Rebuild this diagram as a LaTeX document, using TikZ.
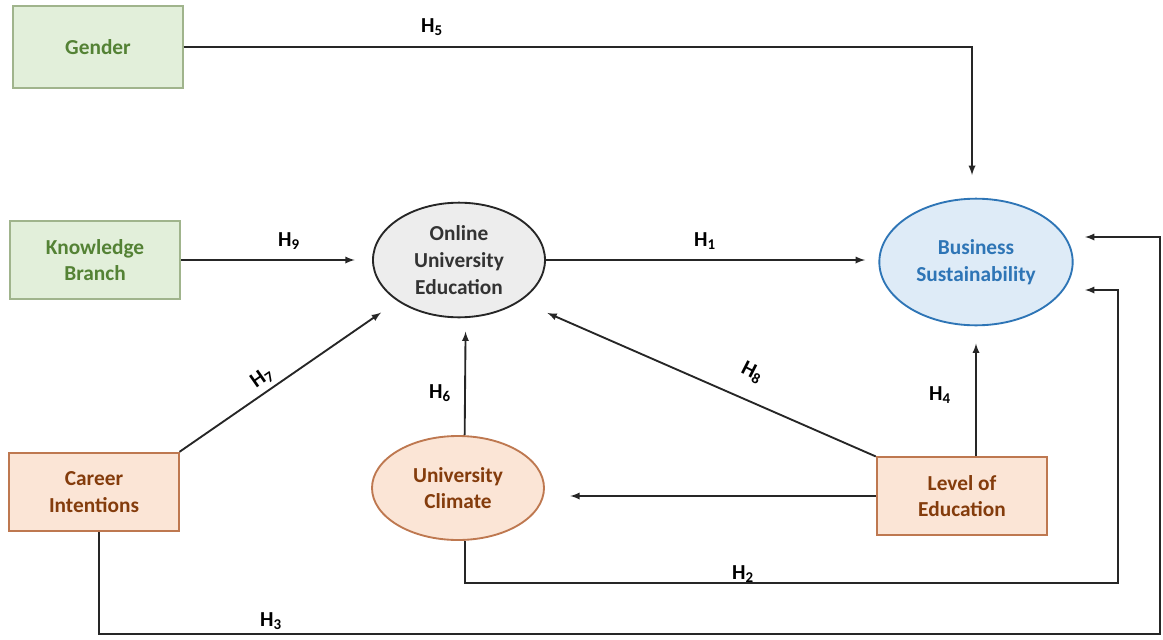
\documentclass[tikz,border=0pt]{standalone}
\usepackage{fontspec}
\setmainfont{Carlito}
\usepackage{tikz}
\usetikzlibrary{shapes.geometric}

\definecolor{greenfill}{RGB}{226,239,218}
\definecolor{greenline}{RGB}{160,180,140}
\definecolor{greentext}{RGB}{84,130,53}
\definecolor{orangefill}{RGB}{251,229,214}
\definecolor{orangeline}{RGB}{190,120,80}
\definecolor{orangetext}{RGB}{132,60,12}
\definecolor{bluefill}{RGB}{222,235,247}
\definecolor{blueline}{RGB}{46,117,182}
\definecolor{greyfill}{RGB}{237,237,237}

\tikzset{
  varbox/.style={draw, line width=1.3pt, minimum width=127pt, minimum height=59pt, align=center, font=\bfseries\fontsize{16}{20}\selectfont},
  greenbox/.style={varbox, fill=greenfill, draw=greenline, text=greentext},
  orangebox/.style={varbox, fill=orangefill, draw=orangeline, text=orangetext},
  varell/.style={ellipse, draw, line width=1.4pt, inner sep=0pt, align=center, font=\bfseries\fontsize{16}{20}\selectfont},
  hyp/.style={font=\bfseries\fontsize{16}{18}\selectfont},
  link/.style={->, >=latex, line width=1.4pt, color=black!85}
}

\begin{document}
\begin{tikzpicture}[x=0.75pt,y=0.75pt,yscale=-1,xscale=1]
\path (0,0) rectangle (1163,639); %set diagram size

%Shape: Rectangle [id:gender]
\node [greenbox, minimum height=61pt] (gender) at (98,47) {Gender};
%Shape: Rectangle [id:knowledge]
\node [greenbox, minimum height=58pt, minimum width=128pt] (knowledge) at (95,260) {Knowledge\\Branch};
%Shape: Rectangle [id:career]
\node [orangebox] (career) at (94,492) {Career\\Intentions};
%Shape: Rectangle [id:level]
\node [orangebox, minimum height=58pt, minimum width=128pt] (level) at (962,496) {Level of\\Education};

%Shape: Ellipse [id:online]
\node [varell, fill=greyfill, draw=black!85, text=black!80, minimum width=129pt, minimum height=86pt] (online) at (459,260) {Online\\University\\Education};
%Shape: Ellipse [id:business]
\node [varell, fill=bluefill, draw=blueline, text=blueline, minimum width=145pt, minimum height=95pt] (business) at (976,262) {Business\\Sustainability};
%Shape: Ellipse [id:climate]
\node [varell, fill=orangefill, draw=orangeline, text=orangetext, minimum width=129pt, minimum height=78pt] (climate) at (458,488) {University\\Climate};

%Free ends and bends
\coordinate (h2bend) at (1118,583);
\coordinate (h2end) at (1085,290);
\coordinate (h3bend) at (1160,634);
\coordinate (h3end) at (1085,237);

%Straight Lines [id:h5]
\draw [link, shorten >=17pt] (gender.east) -| ([xshift=-3pt]business.north);
%Straight Lines [id:h9]
\draw [link, shorten >=13pt] (knowledge.east |- online.west) -- (online.west);
%Straight Lines [id:h1]
\draw [link, shorten >=10pt] (online.east) -- (online.east -| business.west);
%Straight Lines [id:h7]
\draw [link, shorten >=15pt] (career.north east) -- (online.south west);
%Straight Lines [id:h6]
\draw [link, shorten >=10pt] ([xshift=5pt]climate.north) -- ([xshift=5pt]online.south);
%Straight Lines [id:h8]
\draw [link, shorten >=22pt] (level.north west) -- (online.south east);
%Straight Lines [id:h4]
\draw [link, shorten >=13pt] (level.north -| business.south) -- (business.south);
%Straight Lines [id:level to climate]
\draw [link, shorten >=19pt] (level.west) -- (level.west -| climate.east);
%Straight Lines [id:h2]
\draw [link] ([xshift=5pt]climate.south) |- (h2bend) |- (h2end);
%Straight Lines [id:h3]
\draw [link] ([xshift=4pt]career.south) |- (h3bend) |- (h3end);

% Text Node
\node [hyp] (lh5) at (432,27) {H\textsubscript{5}};
% Text Node
\node [hyp] (lh9) at (289,241) {H\textsubscript{9}};
% Text Node
\node [hyp] (lh1) at (705,241) {H\textsubscript{1}};
% Text Node
\node [hyp, rotate=35] (lh7) at (262,378) {H\textsubscript{7}};
% Text Node
\node [hyp] (lh6) at (440,393) {H\textsubscript{6}};
% Text Node
\node [hyp, rotate=-27] (lh8) at (752,373) {H\textsubscript{8}};
% Text Node
\node [hyp] (lh4) at (940,395) {H\textsubscript{4}};
% Text Node
\node [hyp] (lh2) at (743,574) {H\textsubscript{2}};
% Text Node
\node [hyp] (lh3) at (271,621) {H\textsubscript{3}};

\end{tikzpicture}
\end{document}
